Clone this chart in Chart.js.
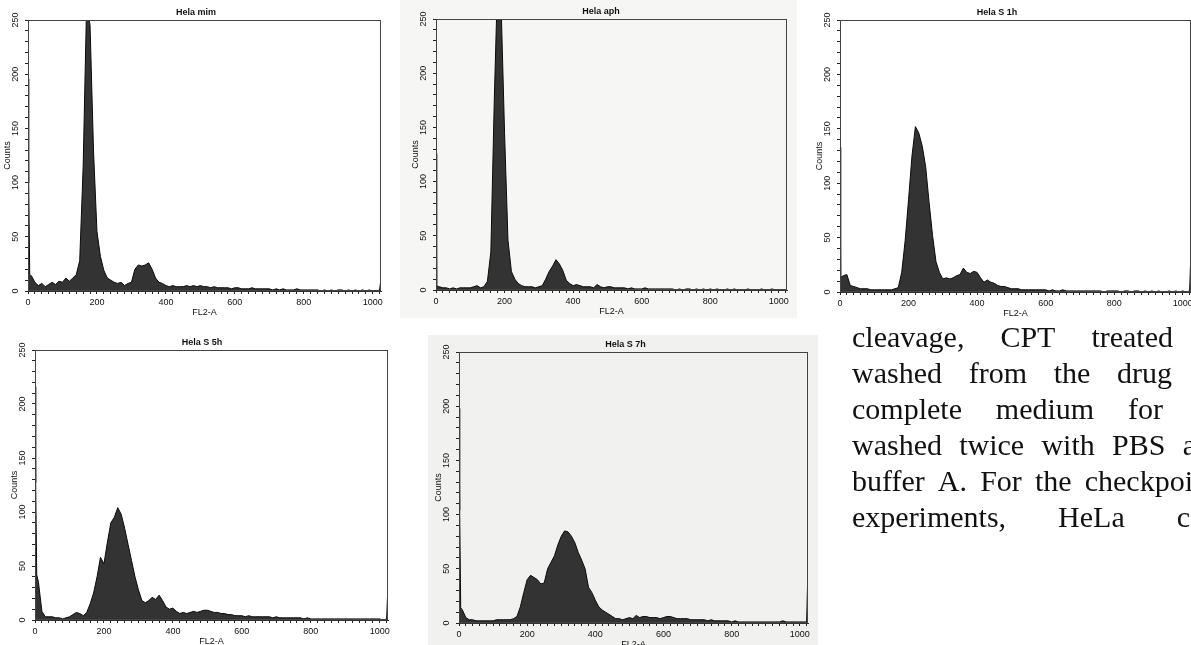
<!DOCTYPE html>
<html>
<head>
<meta charset="utf-8">
<script src="https://cdn.jsdelivr.net/npm/chart.js@4.4.1/dist/chart.umd.min.js"></script>
<style>
  html, body { margin: 0; padding: 0; }
  body { width: 1191px; height: 645px; overflow: hidden; position: relative; background: #fff; }
  canvas { position: absolute; }
  .panel { position: absolute; }
  .line { position: absolute; left: 852px; font-family: "Liberation Serif", "Times New Roman", serif;
          font-size: 30px; line-height: 36px; color: #111; white-space: nowrap;
          display: flex; justify-content: space-between; }
</style>
</head>
<body>
<div class="panel" style="left:400px;top:0;width:397px;height:318px;background:#f6f6f4"></div>
<div class="panel" style="left:428px;top:335px;width:390px;height:310px;background:#f1f1ef"></div>

<canvas id="mim"></canvas>
<canvas id="aph"></canvas>
<canvas id="s1h"></canvas>
<canvas id="s5h"></canvas>
<canvas id="s7h"></canvas>

<div class="line" style="top:319px;width:321px"><span>cleavage,</span><span>CPT</span><span>treated</span></div>
<div class="line" style="top:355px;width:320px"><span>washed</span><span>from</span><span>the</span><span>drug</span></div>
<div class="line" style="top:391px;width:311px"><span>complete</span><span>medium</span><span>for</span></div>
<div class="line" style="top:427px;width:344px"><span>washed</span><span>twice</span><span>with</span><span>PBS</span><span>a</span></div>
<div class="line" style="top:463px;width:341px"><span>buffer</span><span>A.</span><span>For</span><span>the</span><span>checkpoi</span></div>
<div class="line" style="top:499px;width:338px"><span>experiments,</span><span>HeLa</span><span>c</span></div>

<script>
// channel grid (FL2-A), one point per 10 channels plus the edge spikes
const CHANNELS = [0, 2, 5];
for (let c = 10; c <= 1020; c += 10) CHANNELS.push(c);
CHANNELS.push(1023);

const X_LABELS = [0, 200, 400, 600, 800, 1000];
const Y_LABELS = [0, 50, 100, 150, 200, 250];

// counts per channel
const HELA_MIM = [196, 100, 15,
  14, 8, 5, 7, 4, 6, 8, 6, 9, 8,
  12, 9, 12, 15, 28, 115, 265, 245, 130, 55,
  32, 19, 12, 10, 8, 7, 8, 5, 7, 8,
  20, 24, 23, 24, 26, 20, 12, 8, 7, 5,
  4, 5, 4, 4, 4, 5, 4, 5, 4, 5,
  4, 4, 3, 4, 3, 3, 3, 3, 2, 3,
  3, 2, 2, 2, 3, 2, 2, 2, 2, 2,
  1, 2, 1, 2, 1, 1, 1, 2, 1, 1,
  1, 1, 1, 1, 0, 1, 0, 1, 0, 1,
  1, 0, 1, 0, 1, 0, 1, 0, 1, 0,
  0, 1, 9];

const HELA_APH = [126, 5, 3,
  3, 2, 2, 1, 2, 1, 2, 2, 2, 2,
  3, 4, 2, 3, 8, 35, 175, 290, 262, 145,
  46, 17, 10, 6, 4, 3, 3, 3, 2, 3,
  4, 10, 17, 22, 28, 24, 18, 9, 6, 4,
  5, 4, 3, 3, 3, 2, 5, 3, 2, 3,
  3, 2, 2, 2, 2, 1, 2, 1, 1, 1,
  2, 1, 1, 1, 1, 1, 1, 1, 1, 0,
  1, 0, 1, 1, 0, 1, 0, 1, 0, 1,
  0, 1, 0, 0, 1, 0, 1, 0, 0, 0,
  1, 0, 0, 0, 1, 0, 0, 1, 0, 0,
  0, 0, 1];

const HELA_S1H = [133, 15, 14,
  15, 16, 6, 5, 4, 3, 3, 3, 2, 2,
  2, 2, 2, 2, 2, 3, 4, 18, 47, 85,
  125, 152, 146, 134, 115, 82, 52, 28, 18, 12,
  13, 12, 13, 15, 16, 22, 18, 17, 19, 18,
  13, 9, 11, 9, 8, 6, 5, 5, 4, 3,
  3, 3, 2, 2, 2, 2, 2, 2, 2, 2,
  1, 2, 1, 1, 2, 1, 1, 1, 1, 1,
  1, 1, 1, 1, 1, 1, 0, 1, 1, 1,
  1, 0, 1, 1, 0, 1, 1, 0, 1, 0,
  1, 0, 1, 0, 0, 1, 0, 1, 0, 1,
  0, 1, 30];

const HELA_S5H = [216, 127, 42,
  35, 8, 3, 3, 3, 2, 2, 1, 2, 3,
  5, 7, 6, 4, 7, 15, 25, 40, 58, 52,
  72, 90, 95, 104, 98, 85, 70, 55, 40, 28,
  18, 16, 18, 21, 19, 23, 18, 12, 10, 11,
  8, 6, 7, 6, 7, 8, 7, 8, 9, 9,
  8, 7, 7, 6, 6, 5, 5, 4, 4, 4,
  3, 4, 3, 3, 3, 3, 3, 3, 2, 3,
  2, 2, 2, 2, 2, 2, 2, 1, 2, 1,
  1, 1, 1, 1, 1, 1, 1, 1, 1, 1,
  1, 1, 1, 1, 1, 1, 1, 1, 1, 1,
  0, 1, 25];

const HELA_S7H = [198, 104, 14,
  12, 5, 3, 3, 2, 2, 2, 2, 2, 2,
  3, 3, 3, 3, 3, 4, 6, 15, 28, 40,
  44, 42, 40, 36, 37, 50, 56, 62, 72, 80,
  85, 84, 80, 74, 65, 58, 50, 33, 28, 21,
  15, 12, 10, 8, 6, 4, 4, 3, 4, 5,
  4, 7, 5, 6, 6, 5, 5, 5, 4, 5,
  6, 6, 5, 4, 4, 4, 4, 3, 3, 3,
  3, 3, 2, 3, 2, 2, 2, 2, 2, 1,
  2, 1, 1, 1, 1, 1, 1, 1, 1, 1,
  1, 1, 1, 1, 2, 1, 1, 1, 1, 1,
  1, 1, 40];

Chart.defaults.font.family = "'Liberation Sans', Arial, sans-serif";
Chart.defaults.color = '#111';

const TITLE_H = 14;   // title box height
const XAXIS_H = 28;   // tick marks + labels + FL2-A
const PAD_L = 8, PAD_R = 8;
const small = { size: 9, lineHeight: 1 };

// draws the box round the plot
const framePlugin = {
  id: 'frame',
  afterDatasetsDraw(chart) {
    const { ctx, chartArea: a } = chart;
    ctx.save();
    ctx.strokeStyle = '#444';
    ctx.lineWidth = 1;
    ctx.strokeRect(a.left + 0.5, a.top + 0.5, a.right - a.left - 1, a.bottom - a.top - 1);
    ctx.restore();
  }
};

function histogram(id, title, counts, box) {
  const w = box.R - box.L, h = box.B - box.T;
  // y-axis width chosen so the title sits where the scan has it
  const yw = Math.max(16, w - 2 * (box.tx - box.L));
  const cv = document.getElementById(id);
  cv.width = PAD_L + yw + w + PAD_R;
  cv.height = TITLE_H + h + XAXIS_H;
  cv.style.left = (box.L - yw - PAD_L) + 'px';
  cv.style.top = (box.T - TITLE_H) + 'px';

  new Chart(cv, {
    type: 'line',
    data: {
      datasets: [{
        data: CHANNELS.map((c, i) => ({ x: c, y: counts[i] })),
        fill: 'origin',
        backgroundColor: '#333',
        borderColor: '#0a0a0a',
        borderWidth: 1,
        pointRadius: 0,
        tension: 0
      }]
    },
    options: {
      responsive: false,
      animation: false,
      layout: { padding: { left: PAD_L, right: PAD_R, top: 0, bottom: 0 } },
      plugins: {
        legend: { display: false },
        tooltip: { enabled: false },
        title: { display: true, text: title, font: small, color: '#111', padding: { top: 2.5, bottom: 2.5 } }
      },
      scales: {
        x: {
          type: 'linear', min: 0, max: 1024,
          grid: { drawOnChartArea: false, tickLength: 3, color: '#222' },
          border: { display: true, color: '#333' },
          ticks: {
            stepSize: 20, includeBounds: false, autoSkip: false, maxRotation: 0,
            padding: 4.5, font: small,
            callback: v => X_LABELS.includes(v) ? String(v) : ''
          },
          title: { display: true, text: 'FL2-A', font: small, padding: { top: 0, bottom: 1.5 } },
          afterFit: s => { s.height = XAXIS_H; }
        },
        y: {
          min: 0, max: 250,
          grid: { drawOnChartArea: false, tickLength: 3, color: '#222' },
          border: { display: true, color: '#333' },
          ticks: {
            stepSize: 10, autoSkip: false, minRotation: 90, maxRotation: 90,
            crossAlign: 'center', padding: 1.5, font: small,
            callback: v => Y_LABELS.includes(v) ? String(v) : ''
          },
          title: { display: true, text: 'Counts', font: small, padding: { top: yw - 24.5, bottom: 0 } },
          afterFit: s => { s.width = yw; }
        }
      }
    },
    plugins: [framePlugin]
  });
}

histogram('mim', 'Hela mim',  HELA_MIM, { L: 28,  T: 20,  R: 381,  B: 291, tx: 196 });
histogram('aph', 'Hela aph',  HELA_APH, { L: 436, T: 19,  R: 787,  B: 290, tx: 601 });
histogram('s1h', 'Hela S 1h', HELA_S1H, { L: 840, T: 20,  R: 1191, B: 292, tx: 997 });
histogram('s5h', 'Hela S 5h', HELA_S5H, { L: 35,  T: 350, R: 388,  B: 620, tx: 202 });
histogram('s7h', 'Hela S 7h', HELA_S7H, { L: 459, T: 352, R: 808,  B: 623, tx: 626 });
</script>
</body>
</html>
